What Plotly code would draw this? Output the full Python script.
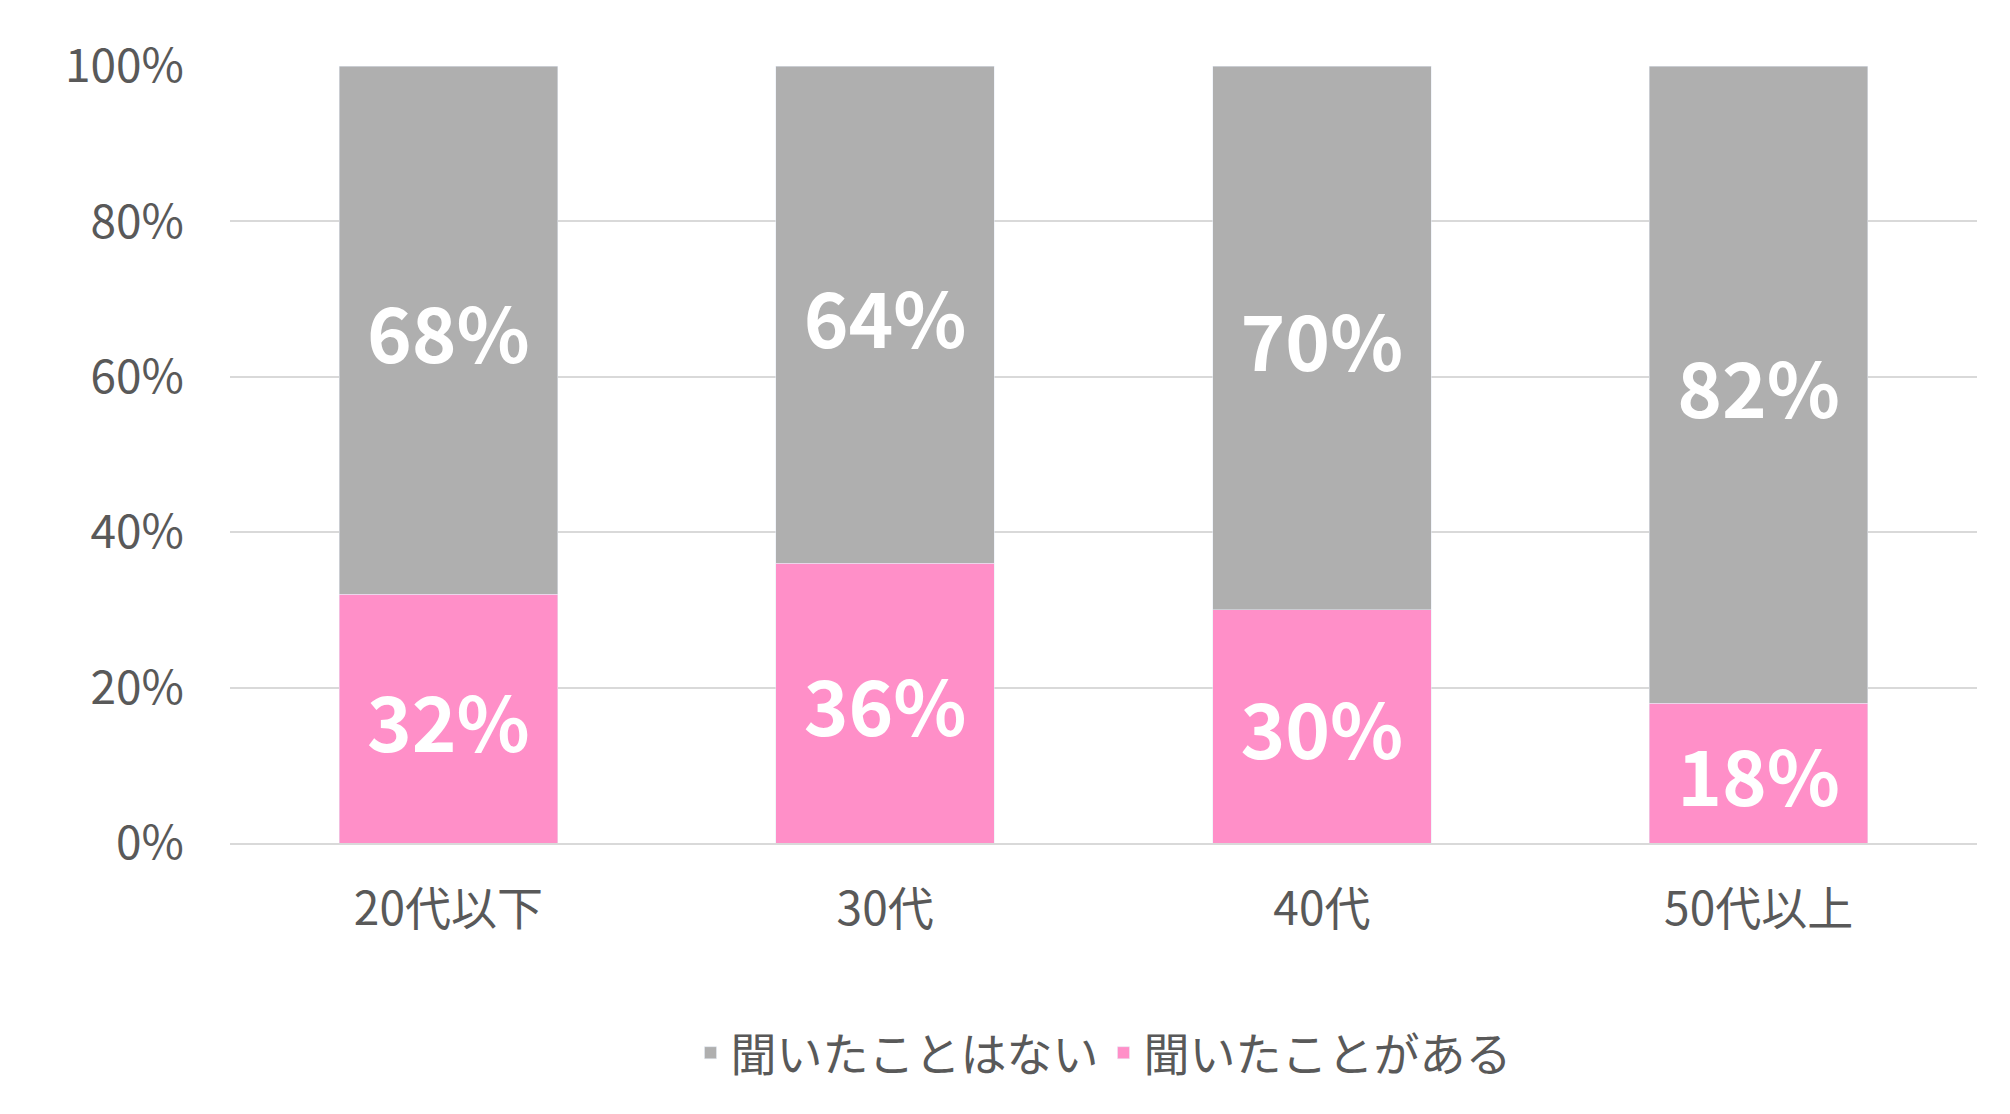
import plotly.graph_objects as go

categories = ["20代以下", "30代", "40代", "50代以上"]
heard = [32, 36, 30, 18]
not_heard = [68, 64, 70, 82]

font = "Noto Sans CJK JP"

fig = go.Figure()
fig.add_bar(x=categories, y=heard, name="聞いたことがある", marker_color="#FF8FC8",
            text=[f"{v}%" for v in heard], textposition="inside", insidetextanchor="middle",
            textfont=dict(size=76, color="white", family=font, weight="bold"))
fig.add_bar(x=categories, y=not_heard, name="聞いたことはない", marker_color="#AFAFAF",
            text=[f"{v}%" for v in not_heard], textposition="inside", insidetextanchor="middle",
            textfont=dict(size=76, color="white", family=font, weight="bold"))

fig.update_layout(
    barmode="stack", bargap=0.5,
    width=2010, height=1114,
    paper_bgcolor="white", plot_bgcolor="white",
    font=dict(family=font, color="#595959", size=46),
    margin=dict(l=222, r=41, t=58, b=279),
    uniformtext=dict(mode="show", minsize=10),
    yaxis=dict(range=[0, 100], dtick=20, ticksuffix="%", gridcolor="#D9D9D9", gridwidth=2,
               zeroline=False, showline=False, tickfont=dict(size=46)),
    xaxis=dict(showline=True, linecolor="#D9D9D9", linewidth=2, tickfont=dict(size=46)),
    legend=dict(orientation="h", x=0.5, xanchor="center", y=-0.27, yanchor="middle",
                font=dict(size=46), itemwidth=30),
)
fig.update_xaxes(ticklabelstandoff=25)
fig.update_yaxes(ticklabelstandoff=45)

fig.write_html("out.html")
